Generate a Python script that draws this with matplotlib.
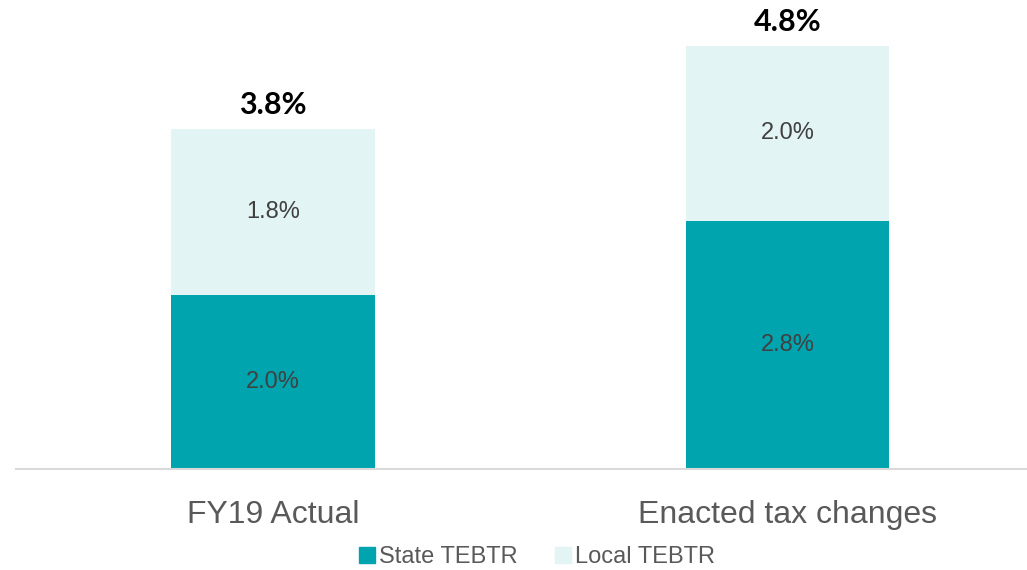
import numpy as np
import matplotlib.pyplot as plt
from matplotlib.lines import Line2D

categories = ["FY19 Actual", "Enacted tax changes"]
state = [1.96, 2.79]
local = [1.86, 1.96]
state_labels = ["2.0%", "2.8%"]
local_labels = ["1.8%", "2.0%"]
total_labels = ["3.8%", "4.8%"]

state_color = "#00A4AE"
local_color = "#E2F4F4"

plt.rcParams['font.family'] = ['Liberation Sans', 'DejaVu Sans']

fig = plt.figure(figsize=(10.27, 5.70), dpi=100)
ax = fig.add_axes([16 / 1027, 101 / 570, 1011 / 1027, 469 / 570])

x = np.arange(len(categories))
w = 0.396
ax.bar(x, state, width=w, color=state_color, label="State TEBTR")
ax.bar(x, local, width=w, bottom=state, color=local_color, label="Local TEBTR")

for i in range(len(categories)):
    ax.text(x[i], state[i] / 2, state_labels[i], ha='center', va='center',
            fontsize=17, color='#404040')
    ax.text(x[i], state[i] + local[i] / 2, local_labels[i], ha='center', va='center',
            fontsize=17, color='#404040')
    ax.text(x[i], state[i] + local[i] + 0.27, total_labels[i], ha='center', va='center',
            fontsize=22, fontweight='bold', color='black', family=['Lato', 'DejaVu Sans'])

ax.set_xlim(-0.5, 1.466)
ax.set_ylim(0, 469 / 89)
for s in ['top', 'right', 'left']:
    ax.spines[s].set_visible(False)
ax.spines['bottom'].set_color('#D9D9D9')
ax.spines['bottom'].set_linewidth(1.5)
ax.set_yticks([])
ax.set_xticks(x)
ax.set_xticklabels(categories, fontsize=23, color='#595959')
ax.tick_params(axis='x', length=0, pad=22)

handles = [Line2D([], [], marker='s', linestyle='none', markersize=11, color=state_color),
           Line2D([], [], marker='s', linestyle='none', markersize=11, color=local_color)]
fig.legend(handles, ["State TEBTR", "Local TEBTR"], loc='center',
           bbox_to_anchor=(537 / 1027, 1 - 557 / 570), ncol=2, frameon=False,
           fontsize=17, labelcolor='#595959', handlelength=0.7, handletextpad=0.15,
           columnspacing=1.6)

fig.savefig("out.png", dpi=100)
